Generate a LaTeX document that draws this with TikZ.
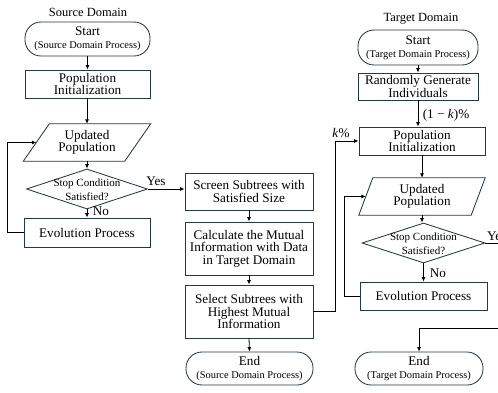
\documentclass[tikz,border=0pt]{standalone}
\usepackage{fontspec}
\setmainfont{Liberation Serif}
\usetikzlibrary{arrows.meta,shapes.geometric}
\definecolor{bc}{HTML}{1F3A4D}
\newcommand{\bfs}{\rmfamily\fontsize{13.2}{12.6}\selectfont}
\newcommand{\sfs}{\rmfamily\fontsize{10.4}{12}\selectfont}
\begin{document}
\begin{tikzpicture}[x=1pt,y=-1pt,
  box/.style={draw=bc, line width=0.85pt, align=center, inner sep=1pt, font=\bfs},
  term/.style={box, rounded corners=16pt},
  plain/.style={inner sep=0pt, align=center, font=\bfs},
  dia/.style={diamond, draw=bc, line width=0.85pt, inner sep=0pt},
  arr/.style={-{Latex[length=4.5pt,width=4pt]}, line width=0.8pt, black},
  lab/.style={font=\bfs, inner sep=1pt}]
\useasboundingbox (0,0) rectangle (498,393);
\clip (0,0) rectangle (498,393);

% ---------- Source domain ----------
\node[lab, font=\rmfamily\fontsize{12.5}{13}\selectfont] (stitle) at (88,12) {Source Domain};
\node[term, minimum width=125pt, minimum height=34pt] (sstart) at (87.5,39)
  {Start\\[0pt]{\sfs(Source Domain Process)}};
\node[box, minimum width=125pt, minimum height=28pt] (sinit) at (87.5,84)
  {Population\\Initialization};
\node[plain, minimum width=127pt, minimum height=37pt] (supd) at (87,142.5)
  {Updated\\Population};
\draw[bc, line width=0.85pt] ([xshift=26pt]supd.north west) -- (supd.north east)
  -- ([xshift=-26pt]supd.south east) -- (supd.south west) -- cycle;
\node[dia, minimum width=121pt, minimum height=40pt] (sdec) at (87,189) {};
\node[plain, font=\rmfamily\fontsize{11}{13.6}\selectfont] (sdect) at (87,189.5) {Stop Condition\\Satisfied?};
\node[box, minimum width=126pt, minimum height=29pt] (sevo) at (87,232.5)
  {Evolution Process};

\draw[arr] (sstart.south) -- (sinit.north);
\draw[arr] (sinit.south -| supd.north) -- (supd.north);
\draw[arr] (supd.south) -- (sdec.north);
\draw[arr] (sdec.south) -- (sevo.north);
\node[lab] (sno) at (101,211) {No};
\draw[arr] (sevo.west) -- ++(-16,0) |- ([xshift=13pt]supd.west);

% ---------- Middle column ----------
\node[box, minimum width=128pt, minimum height=37pt] (screen) at (249,191.5)
  {Screen Subtrees with\\Satisfied Size};
\node[box, minimum width=128pt, minimum height=53pt] (calc) at (249,248.5)
  {Calculate the Mutual\\Information with Data\\in Target Domain};
\node[box, minimum width=128pt, minimum height=53pt] (select) at (249,311.5)
  {Select Subtrees with\\Highest Mutual\\Information};
\node[term, minimum width=127pt, minimum height=33pt] (send) at (249.5,368.5)
  {End\\[0pt]{\sfs(Source Domain Process)}};

\draw[arr] (sdec.east) -- (sdec.east -| screen.west);
\node[lab] (syes) at (156,181) {Yes};
\draw[arr] (screen.south) -- (calc.north);
\draw[arr] (calc.south) -- (select.north);
\draw[arr] (select.south) -- (send.north);

% ---------- Target domain ----------
\node[lab, font=\rmfamily\fontsize{12.5}{13}\selectfont] (ttitle) at (421,19) {Target Domain};
\node[term, minimum width=120pt, minimum height=35pt] (tstart) at (418,47.5)
  {Start\\[0pt]{\sfs(Target Domain Process)}};
\node[box, minimum width=120pt, minimum height=27pt] (trand) at (418,86.5)
  {Randomly Generate\\Individuals};
\node[box, minimum width=126pt, minimum height=28pt] (tinit) at (422,141)
  {Population\\Initialization};
\node[plain, minimum width=126pt, minimum height=37pt] (tupd) at (422,196.5)
  {Updated\\Population};
\draw[bc, line width=0.85pt] ([xshift=14pt]tupd.north west) -- (tupd.north east)
  -- ([xshift=-14pt]tupd.south east) -- (tupd.south west) -- cycle;
\node[dia, minimum width=123pt, minimum height=40pt] (tdec) at (423.5,243) {};
\node[plain, font=\rmfamily\fontsize{11}{13.6}\selectfont] (tdect) at (423.5,243.5) {Stop Condition\\Satisfied?};
\node[box, minimum width=127pt, minimum height=28pt] (tevo) at (423.5,296)
  {Evolution Process};
\node[term, minimum width=128pt, minimum height=33pt] (tend) at (419,368.5)
  {End\\[0pt]{\sfs(Target Domain Process)}};

\coordinate (tyesend) at (505,243);
\coordinate (tret) at (505,328);

\draw[arr] (tstart.south) -- (tstart.south |- trand.north);
\draw[arr] (trand.south) -- (trand.south |- tinit.north);
\node[lab] (tk1) at (446,115) {(1 − \textit{k})\%};
\draw[arr] (select.east) -- ++(22,0) |- (tinit.west);
\node[lab] (tk) at (341,133) {\textit{k}\%};
\draw[arr] (tinit.south) -- (tupd.north);
\draw[arr] (tupd.south) -- (tupd.south |- tdec.north);
\draw[arr] (tdec.south) -- (tevo.north);
\node[lab] (tno) at (438,273) {No};
\draw[arr] (tevo.west) -- ++(-15,0) |- ([xshift=7pt]tupd.west);
\draw[line width=0.8pt] (tdec.east) -- (tyesend);
\node[lab, anchor=west] (tyes) at (486,236) {Yes};
\draw[arr] (tret) -| (tend.north);
\end{tikzpicture}
\end{document}
